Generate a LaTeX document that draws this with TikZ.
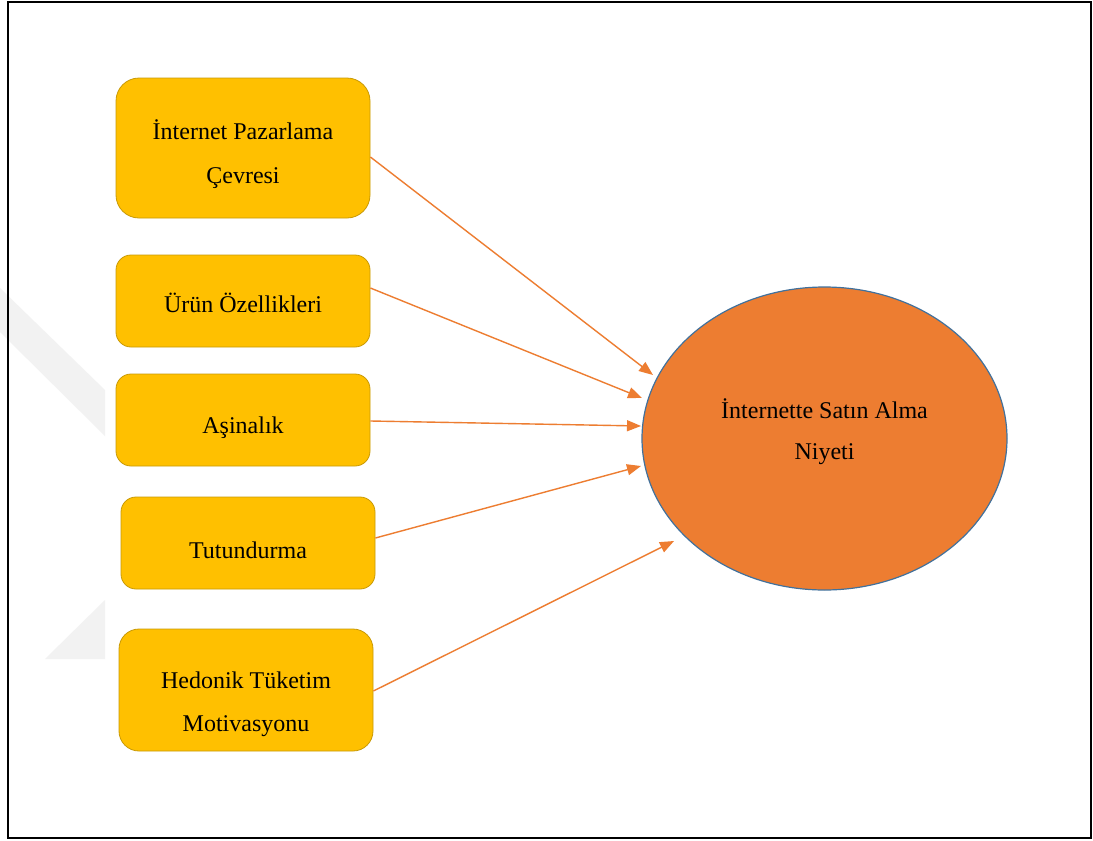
\documentclass[tikz,border=0pt]{standalone}
\usepackage{fontspec}
\setmainfont{Liberation Serif}
\usetikzlibrary{arrows.meta,shapes.geometric}
\definecolor{boxfill}{HTML}{FFC000}
\definecolor{boxline}{HTML}{C99A06}
\definecolor{ovalfill}{HTML}{ED7D31}
\definecolor{ovalline}{HTML}{41719C}
\definecolor{arrowcol}{HTML}{ED7D31}
\definecolor{wmark}{HTML}{F2F2F2}
\tikzset{
  factor/.style={draw=boxline, line width=0.8pt, fill=boxfill, rectangle,
    minimum width=254pt, inner sep=0pt},
  lbl/.style={inner sep=0pt, align=center, text=black},
  link/.style={draw=arrowcol, line width=1.4pt,
    -{Triangle[length=14pt,width=11pt]}}
}
\begin{document}
\begin{tikzpicture}[x=1pt,y=-1pt]
\useasboundingbox (0,0) rectangle (1093,841);
\fill[white] (0,0) rectangle (1093,841);
% watermark
\fill[wmark] (0,288) -- (105,390) -- (105,436) -- (0,332) -- cycle;
\fill[wmark] (45,659) -- (105,600) -- (105,659) -- cycle;
% frame
\draw[line width=2pt] (7.5,2) rectangle (1090.5,837.5);
% boxes
\node[factor, minimum height=140pt, rounded corners=23pt] (b1) at (243,148) {};
\node[factor, minimum height=92pt, rounded corners=15pt] (b2) at (243,301) {};
\node[factor, minimum height=92pt, rounded corners=15pt] (b3) at (243,420) {};
\node[factor, minimum height=92pt, rounded corners=15pt] (b4) at (248,543) {};
\node[factor, minimum height=122pt, rounded corners=20pt] (b5) at (246,690) {};
\node[ellipse, draw=ovalline, line width=1.2pt, fill=ovalfill,
  minimum width=365pt, minimum height=303pt, inner sep=0pt] (goal) at (824.5,438.5) {};
% labels
\node[lbl, font=\fontsize{24}{44}\selectfont] (t1) at ([yshift=-6pt]b1.center) {İnternet Pazarlama\\Çevresi};
\node[lbl, font=\fontsize{24}{44}\selectfont] (t2) at ([yshift=-2pt]b2.center) {Ürün Özellikleri};
\node[lbl, font=\fontsize{24}{44}\selectfont] (t3) at ([yshift=-8pt]b3.center) {Aşinalık};
\node[lbl, font=\fontsize{24}{44}\selectfont] (t4) at ([yshift=-7pt]b4.center) {Tutundurma};
\node[lbl, font=\fontsize{24}{43}\selectfont] (t5) at ([yshift=-14pt]b5.center) {Hedonik Tüketim\\Motivasyonu};
\node[lbl, font=\fontsize{24}{41}\selectfont] (tg) at ([yshift=7pt]goal.center) {İnternette Satın Alma\\Niyeti};
% arrow tips
\coordinate (e1) at (653,375);
\coordinate (e2) at (642,398);
\coordinate (e3) at (641,426);
\coordinate (e4) at (641,466);
\coordinate (e5) at (674,541);
% connectors
\draw[link] ([yshift=-9pt]b1.east) -- (e1);
\draw[link] ([yshift=13pt]b2.east) -- (e2);
\draw[link] ([yshift=-1pt]b3.east) -- (e3);
\draw[link] ([yshift=5pt]b4.east) -- (e4);
\draw[link] ([yshift=-1pt]b5.east) -- (e5);
\end{tikzpicture}
\end{document}
